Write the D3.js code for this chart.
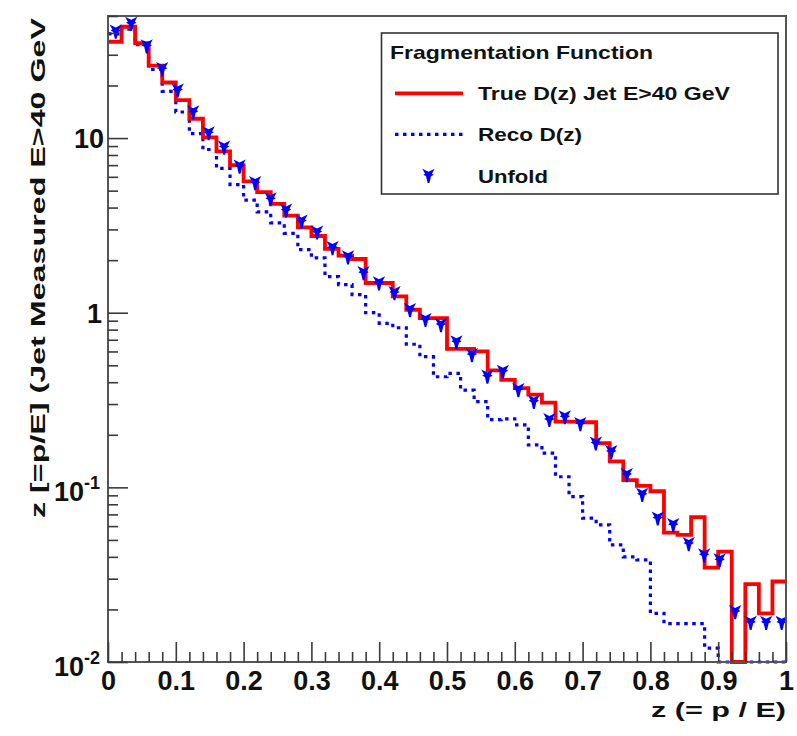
<!DOCTYPE html>
<html>
<head>
<meta charset="utf-8">
<script src="https://cdn.jsdelivr.net/npm/d3@7"></script>
<style>
  html, body { margin: 0; padding: 0; background: #fff; }
  svg { display: block; }
</style>
</head>
<body>
<svg id="chart" width="797" height="736"></svg>
<script>
// Jet fragmentation function D(z), z = p/E, histogrammed in 50 bins over [0, 1]
const zBinCount = 50;
const zRange = [0, 1];

// Generator-level D(z) for jets with E > 40 GeV (0 = empty bin)
const trueDz = [
  35.6, 43.4, 35.0, 26.0, 20.8, 16.5, 12.9, 10.1, 8.4, 7.0,
  5.65, 4.9, 4.2, 3.6, 3.08, 2.75, 2.32, 2.12, 2.03, 1.48,
  1.48, 1.24, 1.04, 0.93, 0.93, 0.62, 0.62, 0.60, 0.467, 0.413,
  0.37, 0.34, 0.306, 0.238, 0.238, 0.236, 0.179, 0.141, 0.110, 0.102,
  0.095, 0.055, 0.0535, 0.0675, 0.0347, 0.0429, 0, 0.0279, 0.019, 0.0289
];

// Reconstructed D(z)
const recoDz = [
  39.5, 42.0, 34.3, 24.7, 18.5, 14.1, 10.6, 8.6, 6.7, 5.42,
  4.41, 3.78, 3.27, 2.85, 2.30, 2.06, 1.61, 1.45, 1.27, 1.0,
  0.87, 0.82, 0.66, 0.56, 0.43, 0.45, 0.36, 0.31, 0.244, 0.247,
  0.228, 0.175, 0.157, 0.115, 0.0886, 0.0666, 0.061, 0.0468, 0.040, 0.0384,
  0.019, 0.0166, 0.0166, 0.0166, 0.012, 0, 0, 0, 0, 0
];

// Unfolded D(z), stored on its own 44-bin layout
const unfoldBinCount = 44;
const unfoldRange = [0, 1.005];
const unfoldDz = [
  40.9, 45.3, 33.6, 24.9, 18.8, 14.1, 10.7, 8.86, 6.89, 5.54,
  4.48, 3.86, 3.34, 2.89, 2.35, 2.08, 1.69, 1.48, 1.30, 1.04,
  0.912, 0.853, 0.68, 0.574, 0.432, 0.461, 0.362, 0.310, 0.244, 0.253,
  0.231, 0.179, 0.160, 0.118, 0.091, 0.0666, 0.061, 0.0475, 0.041, 0.0384,
  0.0194, 0.0168, 0.0168, 0.0168
];

// Axis ticks and labels
const xMajorTicks = [0, 0.1, 0.2, 0.3, 0.4, 0.5, 0.6, 0.7, 0.8, 0.9, 1];
const xTickLabels = ["0", "0.1", "0.2", "0.3", "0.4", "0.5", "0.6", "0.7", "0.8", "0.9", "1"];
const xMinorStep = 0.02;
const yDomain = [0.01, 50];
const yMajorTicks = [0.01, 0.1, 1, 10];
const yTickBase = ["10", "10", "1", "10"];
const yTickExp = ["-2", "-1", "", ""];
const yMinorMultipliers = [2, 3, 4, 5, 6, 7, 8, 9];

const xTitle = "z (= p / E)";
const yTitle = "z [=p/E] (Jet Measured E>40 GeV";
const legendTitle = "Fragmentation Function";
const legendLabels = ["True D(z) Jet E>40 GeV", "Reco D(z)", "Unfold"];

// ---------------------------------------------------------------------------
const FONT = "'Liberation Sans', Arial, Helvetica, sans-serif";
const frame = { left: 108, right: 786, top: 16, bottom: 662 };
const RED = "#ff0000", BLUE = "#0000ff", AXIS = "#3a3a3a";

const svg = d3.select("#chart");
svg.append("rect").attr("width", 797).attr("height", 736).attr("fill", "#fff");

const x = d3.scaleLinear().domain(zRange).range([frame.left, frame.right]);
const y = d3.scaleLog().domain(yDomain).range([frame.bottom, frame.top]);

svg.append("defs").append("clipPath").attr("id", "plotClip")
  .append("rect")
  .attr("x", frame.left).attr("y", frame.top)
  .attr("width", frame.right - frame.left)
  .attr("height", frame.bottom - frame.top + 2);

// Histogram outline: horizontal at each bin content, vertical at bin edges.
// Empty bins fall to the bottom of the log axis.
function stepPoints(values, range, n) {
  const w = (range[1] - range[0]) / n;
  const pts = [];
  values.forEach((v, i) => {
    const lo = range[0] + i * w, hi = lo + w;
    const vv = Math.max(v, yDomain[0]);
    pts.push([lo, vv], [hi, vv]);
  });
  return pts;
}
const stepLine = d3.line().x(d => x(d[0])).y(d => y(d[1]));

const plot = svg.append("g").attr("clip-path", "url(#plotClip)");

plot.append("path")
  .attr("d", stepLine(stepPoints(recoDz, zRange, zBinCount)))
  .attr("fill", "none").attr("stroke", BLUE).attr("stroke-width", 3.2)
  .attr("stroke-dasharray", "3.5,4.5");

plot.append("path")
  .attr("d", stepLine(stepPoints(trueDz, zRange, zBinCount)))
  .attr("fill", "none").attr("stroke", RED).attr("stroke-width", 3.8)
  .attr("stroke-linejoin", "miter");

// Unfold marker: downward pointing star-like glyph
const markerPath = "M-6.2,-6.8 L0,-3.8 L6.2,-6.8 L3.4,-1.8 L5.2,-0.7 L2.5,0.7 L0.9,7.4 L-0.9,7.4 L-2.5,0.7 L-5.2,-0.7 L-3.4,-1.8 Z";
const unfoldWidth = (unfoldRange[1] - unfoldRange[0]) / unfoldBinCount;
plot.selectAll("path.unfold")
  .data(unfoldDz)
  .join("path")
  .attr("class", "unfold")
  .attr("d", markerPath)
  .attr("fill", BLUE)
  .attr("transform", (d, i) => `translate(${x(unfoldRange[0] + (i + 0.5) * unfoldWidth)},${y(d)})`);

// Frame
svg.append("rect")
  .attr("x", frame.left).attr("y", frame.top)
  .attr("width", frame.right - frame.left).attr("height", frame.bottom - frame.top)
  .attr("fill", "none").attr("stroke", "#555").attr("stroke-width", 2);

// X axis: major and minor ticks point into the plot
const xMinor = d3.range(0, zBinCount + 1).map(i => +(i * xMinorStep).toFixed(4))
  .filter(v => !xMajorTicks.some(m => Math.abs(m - v) < 1e-9));

const gxMinor = svg.append("g").attr("transform", `translate(0,${frame.bottom})`)
  .call(d3.axisBottom(x).tickValues(xMinor).tickSize(-10).tickFormat(""));
const gx = svg.append("g").attr("transform", `translate(0,${frame.bottom})`)
  .call(d3.axisBottom(x).tickValues(xMajorTicks).tickSize(-20).tickPadding(9)
    .tickFormat((d, i) => xTickLabels[i]));

[gxMinor, gx].forEach(g => {
  g.select(".domain").remove();
  g.selectAll(".tick line").attr("stroke", AXIS).attr("stroke-width", 1.6);
});
gx.selectAll(".tick text")
  .attr("font-family", FONT).attr("font-weight", "bold").attr("font-size", 27)
  .attr("fill", "#111");

// Y axis (log): decade ticks plus 2..9 minor ticks
const yMinor = [];
yMajorTicks.forEach(d => yMinorMultipliers.forEach(m => {
  const v = d * m;
  if (v <= yDomain[1]) yMinor.push(v);
}));

const gyMinor = svg.append("g").attr("transform", `translate(${frame.left},0)`)
  .call(d3.axisLeft(y).tickValues(yMinor).tickSize(-10).tickFormat(""));
const gy = svg.append("g").attr("transform", `translate(${frame.left},0)`)
  .call(d3.axisLeft(y).tickValues(yMajorTicks).tickSize(-20).tickFormat(""));

[gyMinor, gy].forEach(g => {
  g.select(".domain").remove();
  g.selectAll(".tick line").attr("stroke", AXIS).attr("stroke-width", 1.6);
});

gy.selectAll(".tick text").each(function (d, i) {
  const t = d3.select(this);
  const hasExp = yTickExp[i] !== "";
  t.attr("dy", null)
    .attr("x", hasExp ? -8 : (yTickBase[i].length > 1 ? -4 : -6))
    .attr("y", hasExp ? 13 : 9.5)
    .attr("text-anchor", "end")
    .attr("font-family", FONT).attr("font-weight", "bold").attr("font-size", 27)
    .attr("fill", "#111");
  t.text(null);
  t.append("tspan").text(yTickBase[i]);
  if (hasExp) {
    t.append("tspan").attr("font-size", 18).attr("dy", -12).text(yTickExp[i]);
  }
});

// Axis titles (right / top aligned, as on the frame ends)
svg.append("text")
  .attr("x", frame.right).attr("y", 717)
  .attr("text-anchor", "end")
  .attr("font-family", FONT).attr("font-weight", "bold").attr("font-size", 21)
  .attr("textLength", 135).attr("lengthAdjust", "spacingAndGlyphs")
  .attr("fill", "#111")
  .text(xTitle);

svg.append("text")
  .attr("transform", `translate(45,${frame.top + 2}) rotate(-90)`)
  .attr("text-anchor", "end")
  .attr("font-family", FONT).attr("font-weight", "bold").attr("font-size", 21)
  .attr("textLength", 500).attr("lengthAdjust", "spacingAndGlyphs")
  .attr("fill", "#111")
  .text(yTitle);

// Legend
const legend = svg.append("g");
legend.append("rect")
  .attr("x", 381.5).attr("y", 33).attr("width", 396.5).attr("height", 161)
  .attr("fill", "#fff").attr("stroke", "#333").attr("stroke-width", 1.6);

legend.append("text")
  .attr("x", 390).attr("y", 58.5)
  .attr("font-family", FONT).attr("font-weight", "bold").attr("font-size", 18.5)
  .attr("textLength", 263).attr("lengthAdjust", "spacingAndGlyphs")
  .attr("fill", "#111")
  .text(legendTitle);

const rowY = [93.3, 134.3, 175.5];
const labelWidths = [252, 104, 70];
legendLabels.forEach((lab, i) => {
  legend.append("text")
    .attr("x", 478).attr("y", rowY[i] + 7)
    .attr("font-family", FONT).attr("font-weight", "bold").attr("font-size", 18.5)
    .attr("textLength", labelWidths[i]).attr("lengthAdjust", "spacingAndGlyphs")
    .attr("fill", "#111")
    .text(lab);
});
legend.append("line")
  .attr("x1", 395).attr("x2", 463).attr("y1", rowY[0]).attr("y2", rowY[0])
  .attr("stroke", RED).attr("stroke-width", 3.8);
legend.append("line")
  .attr("x1", 395).attr("x2", 463).attr("y1", rowY[1]).attr("y2", rowY[1])
  .attr("stroke", BLUE).attr("stroke-width", 3.2).attr("stroke-dasharray", "3.5,4.5");
legend.append("path")
  .attr("d", markerPath).attr("fill", BLUE)
  .attr("transform", `translate(428.5,${rowY[2]})`);
</script>
</body>
</html>
